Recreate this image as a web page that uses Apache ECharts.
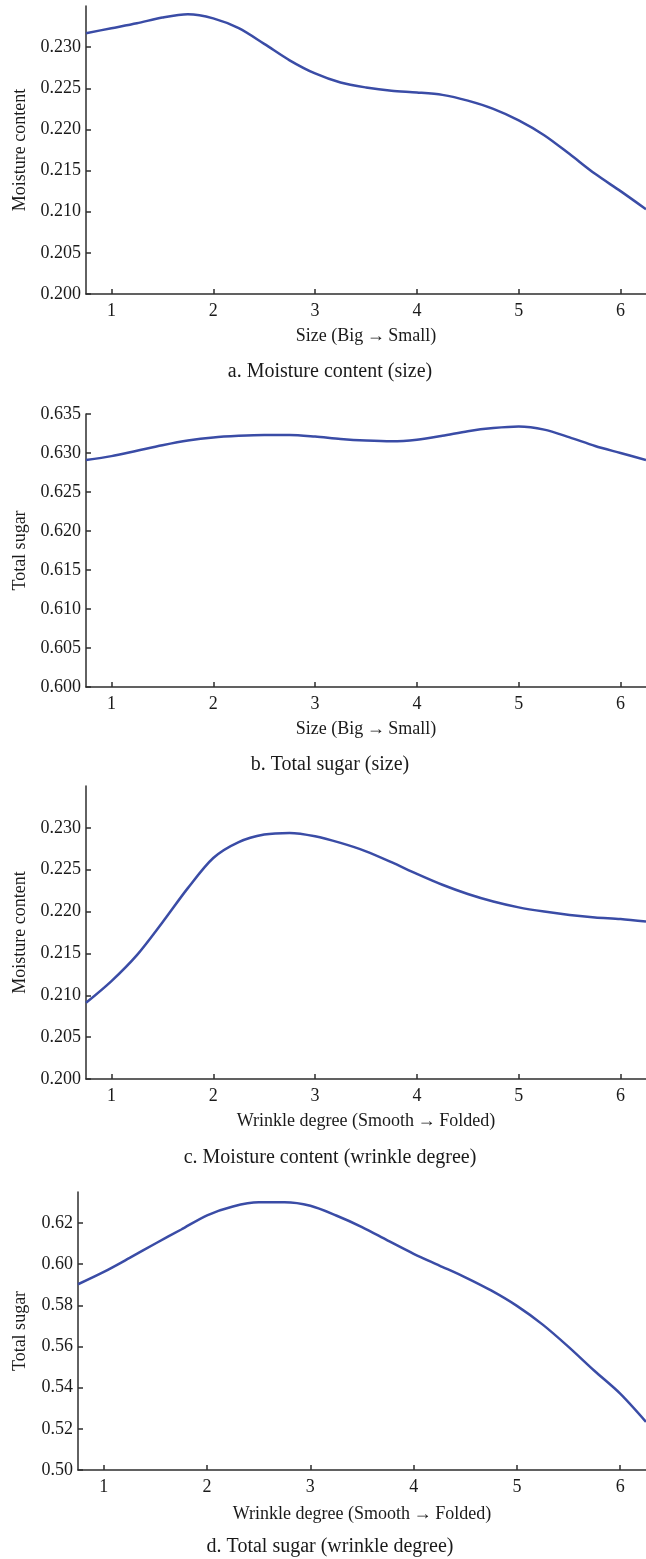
<!DOCTYPE html>
<html>
<head>
<meta charset="utf-8">
<script src="https://cdn.jsdelivr.net/npm/echarts@6/dist/echarts.min.js"></script>
<style>
html,body{margin:0;padding:0;background:#ffffff;}
#chart{width:646px;height:1559px;}
</style>
</head>
<body>
<div id="chart"></div>
<script>
// ---- data ----
const xTickLabels = [1, 2, 3, 4, 5, 6];

// sample positions along the x axis (level 0.75 .. 6.25)
const xs = [0.75, 1.0, 1.25, 1.5, 1.75, 2.0, 2.25, 2.5, 2.75, 3.0, 3.25, 3.5, 3.75, 4.0, 4.25, 4.5, 4.75, 5.0, 5.25, 5.5, 5.75, 6.0, 6.25];

const moistureSize = [0.2317, 0.2323, 0.2329, 0.2336, 0.2340, 0.2335, 0.2323, 0.2304, 0.2284, 0.2268, 0.2257, 0.2251, 0.2247, 0.2245, 0.2242, 0.2235, 0.2225, 0.2211, 0.2193, 0.2170, 0.2146, 0.2125, 0.2103];

const sugarSize = [0.6291, 0.6296, 0.6303, 0.6310, 0.6316, 0.6320, 0.6322, 0.6323, 0.6323, 0.6321, 0.6318, 0.6316, 0.6315, 0.6317, 0.6322, 0.6328, 0.6332, 0.6334, 0.6330, 0.6320, 0.6309, 0.6300, 0.6291];

const moistureWrinkle = [0.2091, 0.2117, 0.2148, 0.2187, 0.2228, 0.2264, 0.2283, 0.2292, 0.2294, 0.2290, 0.2282, 0.2272, 0.2259, 0.2245, 0.2232, 0.2221, 0.2212, 0.2205, 0.2200, 0.2196, 0.2193, 0.2191, 0.2188];

const sugarWrinkle = [0.5902, 0.5962, 0.6030, 0.6100, 0.6168, 0.6237, 0.6280, 0.6300, 0.6300, 0.6283, 0.6236, 0.6180, 0.6114, 0.6050, 0.5993, 0.5936, 0.5872, 0.5797, 0.5706, 0.5598, 0.5482, 0.5371, 0.5234];

const yTicksMoisture = [0.200, 0.205, 0.210, 0.215, 0.220, 0.225, 0.230];
const yTicksSugarSize = [0.600, 0.605, 0.610, 0.615, 0.620, 0.625, 0.630, 0.635];
const yTicksSugarWrinkle = [0.50, 0.52, 0.54, 0.56, 0.58, 0.60, 0.62];

const xNames = ['Size (Big\u2009\u2192\u2009Small)', 'Size (Big\u2009\u2192\u2009Small)', 'Wrinkle degree (Smooth\u2009\u2192\u2009Folded)', 'Wrinkle degree (Smooth\u2009\u2192\u2009Folded)'];
const yNames = ['Moisture content', 'Total sugar', 'Moisture content', 'Total sugar'];
const captions = ['a. Moisture content (size)', 'b. Total sugar (size)', 'c. Moisture content (wrinkle degree)', 'd. Total sugar (wrinkle degree)'];

// ---- layout ----
const FONT = '"Liberation Serif", "Times New Roman", serif';
const TEXT = '#1a1a1a';
const AXIS = '#2e2e2e';
const LINE = '#3a4ca6';

const grids = [
  {left: 86, right: 0, top: 6, height: 288},
  {left: 86, right: 0, top: 414, height: 273},
  {left: 86, right: 0, top: 786, height: 293},
  {left: 78, right: 0, top: 1192, height: 278}
];
const yRanges = [[0.2, 0.235], [0.6, 0.635], [0.2, 0.235], [0.5, 0.635]];
const yTickSets = [yTicksMoisture, yTicksSugarSize, yTicksMoisture, yTicksSugarWrinkle];
const yDecimals = [3, 3, 3, 2];
const xNameGaps = [33, 33, 33, 35];
const yNameGaps = [57, 57, 57, 49];
const captionTops = [357, 750, 1143, 1532];
const seriesData = [moistureSize, sugarSize, moistureWrinkle, sugarWrinkle];

const option = {
  backgroundColor: '#ffffff',
  animation: false,
  title: captions.map((c, i) => ({
    text: c, left: 325, top: captionTops[i], textAlign: 'center',
    textStyle: {fontFamily: FONT, fontSize: 20, fontWeight: 'normal', color: TEXT}
  })),
  grid: grids,
  xAxis: grids.map((g, i) => ({
    type: 'value', gridIndex: i, min: 0.75, max: 6.25,
    name: xNames[i], nameLocation: 'middle', nameGap: xNameGaps[i],
    nameTextStyle: {fontFamily: FONT, fontSize: 18, color: TEXT},
    axisLine: {show: true, lineStyle: {color: AXIS, width: 1.5}},
    axisTick: {show: true, inside: true, length: 5, customValues: xTickLabels, lineStyle: {color: AXIS, width: 1.5}},
    axisLabel: {show: true, customValues: xTickLabels, margin: 8, fontFamily: FONT, fontSize: 18, color: TEXT,
      formatter: v => String(Math.round(v))},
    splitLine: {show: false}
  })),
  yAxis: grids.map((g, i) => ({
    type: 'value', gridIndex: i, min: yRanges[i][0], max: yRanges[i][1],
    name: yNames[i], nameLocation: 'middle', nameGap: yNameGaps[i], nameRotate: 90,
    nameTextStyle: {fontFamily: FONT, fontSize: 18, color: TEXT},
    axisLine: {show: true, lineStyle: {color: AXIS, width: 1.5}},
    axisTick: {show: true, inside: true, length: 5, customValues: yTickSets[i], lineStyle: {color: AXIS, width: 1.5}},
    axisLabel: {show: true, customValues: yTickSets[i], margin: 5, fontFamily: FONT, fontSize: 18, color: TEXT,
      formatter: v => v.toFixed(yDecimals[i])},
    splitLine: {show: false}
  })),
  series: seriesData.map((vals, i) => ({
    type: 'line', xAxisIndex: i, yAxisIndex: i, smooth: 0.3, symbol: 'none',
    lineStyle: {color: LINE, width: 2.5},
    data: xs.map((x, k) => [x, vals[k]])
  }))
};

const chart = echarts.init(document.getElementById('chart'), null, {renderer: 'canvas'});
chart.setOption(option);
</script>
</body>
</html>
